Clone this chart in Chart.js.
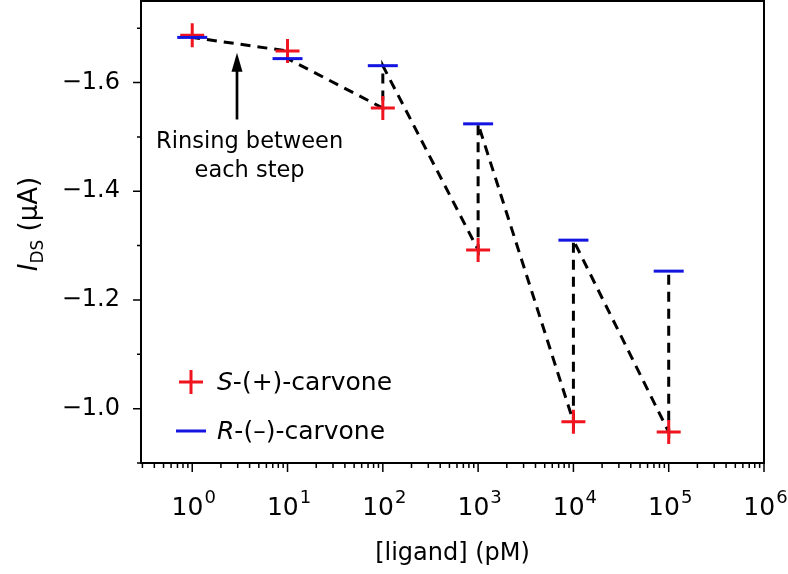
<!DOCTYPE html>
<html>
<head>
<meta charset="utf-8">
<script src="https://cdn.jsdelivr.net/npm/chart.js@4.4.1/dist/chart.umd.min.js"></script>
<style>
  html, body { margin: 0; padding: 0; background: #fff; }
  #wrap { width: 788px; height: 574px; }
</style>
</head>
<body>
<div id="wrap"><canvas id="chart"></canvas></div>
<script>
// concentrations (pM) and measured I_DS (µA)
const concentrations = [1, 10, 100, 1000, 10000, 100000];
const sCarvone = [-1.687, -1.658, -1.553, -1.292, -0.976, -0.957];
const rCarvone = [-1.683, -1.644, -1.631, -1.524, -1.310, -1.253];

const xMajorTicks = [1, 10, 100, 1000, 10000, 100000, 1000000];
const xMinorTicks = [0.3, 0.4, 0.5, 0.6, 0.7, 0.8, 0.9];
for (let d = 1; d < 1000000; d *= 10) {
    for (let m = 2; m <= 9; m++) xMinorTicks.push(m * d);
}
const yMajorTicks = [-1.6, -1.4, -1.2, -1.0];
const yMinorTicks = [-1.7, -1.5, -1.3, -1.1, -0.9];

const red = 'rgb(240,20,30)';
const blue = 'rgb(20,20,225)';
const FONT = '"DejaVu Sans", sans-serif';

// zig-zag path: S then R measurement at each concentration
const path = [];
concentrations.forEach(function(c, i) {
    path.push({x: c, y: sCarvone[i]});
    path.push({x: c, y: rCarvone[i]});
});

// annotation anchor (data coords)
const arrowX = 2.95, arrowTipY = -1.655, arrowBaseY = -1.532;
const noteX = 4.0, noteLines = [['Rinsing between', -1.480], ['each step', -1.427]];

function noPadding(scale) {
    scale.paddingTop = 0;
    scale.paddingBottom = 0;
    scale.paddingLeft = 0;
    scale.paddingRight = 0;
}

const decorPlugin = {
    id: 'decor',
    afterDraw: function(chart) {
        const ctx = chart.ctx;
        const a = chart.chartArea;
        const xs = chart.scales.x, ys = chart.scales.y;
        ctx.save();

        // frame
        ctx.strokeStyle = '#000';
        ctx.lineWidth = 2;
        ctx.strokeRect(a.left, a.top, a.right - a.left, a.bottom - a.top);

        // tick marks
        ctx.lineWidth = 1.5;
        ctx.beginPath();
        xMajorTicks.forEach(function(v) {
            const px = xs.getPixelForValue(v);
            ctx.moveTo(px, a.bottom); ctx.lineTo(px, a.bottom + 9);
        });
        xMinorTicks.forEach(function(v) {
            const px = xs.getPixelForValue(v);
            if (px < a.left - 0.5) return;
            ctx.moveTo(px, a.bottom); ctx.lineTo(px, a.bottom + 5);
        });
        yMajorTicks.forEach(function(v) {
            const py = ys.getPixelForValue(v);
            ctx.moveTo(a.left, py); ctx.lineTo(a.left - 8, py);
        });
        yMinorTicks.forEach(function(v) {
            const py = ys.getPixelForValue(v);
            ctx.moveTo(a.left, py); ctx.lineTo(a.left - 4, py);
        });
        ctx.stroke();

        // x tick labels: 10 with a raised exponent
        ctx.fillStyle = '#000';
        ctx.textBaseline = 'alphabetic';
        ctx.textAlign = 'left';
        xMajorTicks.forEach(function(v) {
            const px = xs.getPixelForValue(v);
            const e = String(Math.round(Math.log10(v)));
            ctx.font = '25px ' + FONT;
            const wb = ctx.measureText('10').width;
            ctx.font = '18px ' + FONT;
            const we = ctx.measureText(e).width;
            const x0 = px - (wb + we) / 2 + 1;
            ctx.font = '25px ' + FONT;
            ctx.fillText('10', x0, a.bottom + 52);
            ctx.font = '18px ' + FONT;
            ctx.fillText(e, x0 + wb + 1, a.bottom + 40);
        });

        // annotation arrow
        const ax = xs.getPixelForValue(arrowX);
        const tip = ys.getPixelForValue(arrowTipY);
        const base = ys.getPixelForValue(arrowBaseY);
        ctx.lineWidth = 2.7;
        ctx.beginPath();
        ctx.moveTo(ax, base); ctx.lineTo(ax, tip + 15);
        ctx.stroke();
        ctx.beginPath();
        ctx.moveTo(ax, tip);
        ctx.lineTo(ax - 5.5, tip + 19);
        ctx.lineTo(ax + 5.5, tip + 19);
        ctx.closePath();
        ctx.fill();

        ctx.font = '22.5px ' + FONT;
        ctx.textAlign = 'center';
        const nx = xs.getPixelForValue(noteX);
        noteLines.forEach(function(l) {
            ctx.fillText(l[0], nx, ys.getPixelForValue(l[1]));
        });

        // legend
        const lx = a.left + 50;
        const rows = [
            {y: a.bottom - 81, italic: 'S', rest: '-(+)-carvone', type: 'cross', color: red},
            {y: a.bottom - 32, italic: 'R', rest: '-(\u2013)-carvone', type: 'line', color: blue}
        ];
        rows.forEach(function(r) {
            ctx.strokeStyle = r.color;
            ctx.lineWidth = 3;
            ctx.beginPath();
            if (r.type === 'cross') {
                ctx.moveTo(lx - 12, r.y); ctx.lineTo(lx + 12, r.y);
                ctx.moveTo(lx, r.y - 12); ctx.lineTo(lx, r.y + 12);
            } else {
                ctx.moveTo(lx - 15, r.y); ctx.lineTo(lx + 15, r.y);
            }
            ctx.stroke();
            ctx.textAlign = 'left';
            ctx.fillStyle = '#000';
            ctx.font = 'italic 25px ' + FONT;
            const tx = lx + 26;
            ctx.fillText(r.italic, tx, r.y + 8);
            const w = ctx.measureText(r.italic).width;
            ctx.font = '25px ' + FONT;
            ctx.fillText(r.rest, tx + w, r.y + 8);
        });

        // y axis title with subscript
        ctx.translate(37, (a.top + a.bottom) / 2 - 8);
        ctx.rotate(-Math.PI / 2);
        ctx.font = 'italic 26px ' + FONT;
        const wI = ctx.measureText('I').width;
        ctx.font = '17px ' + FONT;
        const wDS = ctx.measureText('DS').width;
        ctx.font = '26px ' + FONT;
        const wU = ctx.measureText(' (µA)').width;
        let sx = -(wI + wDS + wU) / 2;
        ctx.textAlign = 'left';
        ctx.font = 'italic 26px ' + FONT;
        ctx.fillText('I', sx, 0);
        sx += wI;
        ctx.font = '17px ' + FONT;
        ctx.fillText('DS', sx, 6);
        sx += wDS;
        ctx.font = '26px ' + FONT;
        ctx.fillText(' (µA)', sx, 0);

        ctx.restore();
    }
};

new Chart(document.getElementById('chart'), {
    type: 'scatter',
    data: {
        datasets: [{
            label: 'R-(−)-carvone',
            data: concentrations.map(function(c, i) { return {x: c, y: rCarvone[i]}; }),
            pointStyle: 'line',
            pointRadius: 15,
            pointBorderWidth: 3,
            pointBorderColor: blue,
            pointBackgroundColor: blue,
            order: 1
        }, {
            label: 'S-(+)-carvone',
            data: concentrations.map(function(c, i) { return {x: c, y: sCarvone[i]}; }),
            pointStyle: 'cross',
            pointRadius: 12,
            pointBorderWidth: 3,
            pointBorderColor: red,
            pointBackgroundColor: red,
            order: 2
        }, {
            label: 'path',
            type: 'line',
            data: path,
            borderColor: '#000',
            borderWidth: 3,
            borderDash: [10, 7],
            pointRadius: 0,
            tension: 0,
            fill: false,
            order: 3
        }]
    },
    options: {
        responsive: true,
        maintainAspectRatio: false,
        animation: false,
        events: [],
        layout: { autoPadding: false, padding: { top: 1, right: 24, left: 0, bottom: 0 } },
        plugins: {
            legend: { display: false },
            tooltip: { enabled: false }
        },
        scales: {
            x: {
                type: 'logarithmic',
                min: 0.29,
                max: 1000000,
                grid: { display: false },
                border: { display: false },
                afterBuildTicks: function(scale) {
                    scale.ticks = xMajorTicks.map(function(v) { return {value: v}; });
                },
                afterFit: function(scale) { scale.height = 111; noPadding(scale); },
                ticks: { display: false },
                title: {
                    display: true,
                    text: '[ligand] (pM)',
                    color: '#000',
                    font: { family: FONT, size: 24 },
                    padding: { top: 0, bottom: 6 }
                }
            },
            y: {
                reverse: true,
                min: -1.75,
                max: -0.9,
                grid: { display: false },
                border: { display: false },
                afterBuildTicks: function(scale) {
                    scale.ticks = yMajorTicks.map(function(v) { return {value: v}; });
                },
                afterFit: function(scale) { scale.width = 141; noPadding(scale); },
                ticks: {
                    padding: 13,
                    color: '#000',
                    font: { family: FONT, size: 24 },
                    callback: function(v) {
                        return '\u2212' + Math.abs(v).toFixed(1);
                    }
                }
            }
        }
    },
    plugins: [decorPlugin]
});
</script>
</body>
</html>
